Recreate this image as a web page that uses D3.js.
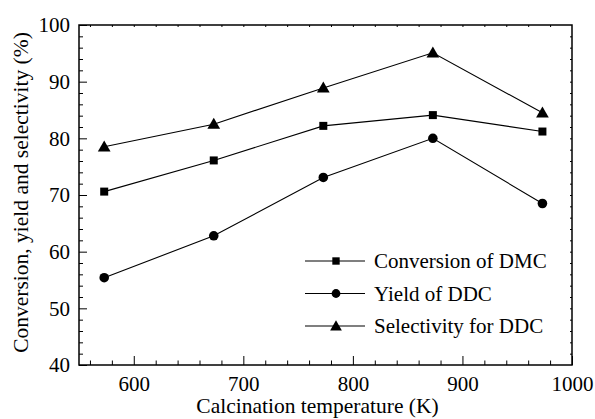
<!DOCTYPE html>
<html><head><meta charset="utf-8">
<script src="https://cdn.jsdelivr.net/npm/d3@7"></script>
<style>body{margin:0;background:#fff}svg{display:block}</style>
</head><body>
<script>
const temps = [573, 673, 773, 873, 973];
const conversion = [70.6, 76.1, 82.2, 84.1, 81.2];
const yieldDDC = [55.4, 62.8, 73.1, 80.0, 68.5];
const selectivity = [78.5, 82.5, 88.9, 95.1, 84.5];
const seriesNames = ["Conversion of DMC", "Yield of DDC", "Selectivity for DDC"];
const xTicks = [600, 700, 800, 900, 1000];
const yTicks = [40, 50, 60, 70, 80, 90, 100];

const FONT = '"Liberation Serif", "Times New Roman", serif';
const W = 595, H = 419;
const m = {l: 79, r: 23, t: 25, b: 54};
const svg = d3.select("body").append("svg").attr("width", W).attr("height", H);
const x = d3.scaleLinear().domain([550, 1000]).range([m.l, W - m.r]);
const y = d3.scaleLinear().domain([40, 100]).range([H - m.b, m.t]);

const g = svg.append("g");
const xMinor = d3.range(560, 1000, 20).filter(v => v % 100 !== 0);
const yMinor = d3.range(42, 100, 2).filter(v => v % 10 !== 0);

g.append("g").attr("transform", `translate(0,${H - m.b})`)
  .call(d3.axisBottom(x).tickValues(xTicks).tickFormat(d3.format("d")).tickSizeInner(-9).tickSizeOuter(0).tickPadding(11));
g.append("g").attr("transform", `translate(0,${H - m.b})`)
  .call(d3.axisBottom(x).tickValues(xMinor).tickSizeInner(-4.5).tickSizeOuter(0).tickFormat(""));
g.append("g").attr("transform", `translate(${m.l},0)`)
  .call(d3.axisLeft(y).tickValues(yTicks).tickFormat(d3.format("d")).tickSizeInner(-8).tickSizeOuter(0).tickPadding(9));
g.append("g").attr("transform", `translate(${m.l},0)`)
  .call(d3.axisLeft(y).tickValues(yMinor).tickSizeInner(-4).tickSizeOuter(0).tickFormat(""));
g.append("g").attr("transform", `translate(0,${m.t})`)
  .call(d3.axisTop(x).tickValues(d3.range(560, 1000, 20)).tickSizeInner(-2).tickSizeOuter(0).tickFormat(""));
g.append("g").attr("transform", `translate(${W - m.r},0)`)
  .call(d3.axisRight(y).tickValues(d3.range(42, 100, 2)).tickSizeInner(-2).tickSizeOuter(0).tickFormat(""));

g.selectAll(".domain").remove();
g.selectAll("line").attr("stroke", "#000").attr("stroke-width", 1);
g.selectAll("text").style("font-size", "21px").style("font-family", FONT).attr("fill", "#000");
svg.append("rect").attr("x", m.l).attr("y", m.t).attr("width", W - m.r - m.l).attr("height", H - m.b - m.t)
  .attr("fill", "none").attr("stroke", "#000").attr("stroke-width", 1.5);

const data = [conversion, yieldDDC, selectivity];
const symbols = [d3.symbolSquare, d3.symbolCircle, d3.symbolTriangle];
const sizes = [64, 72, 70];
const line = d3.line().x((d, i) => x(temps[i])).y(d => y(d));
data.forEach((vals, k) => {
  svg.append("path").datum(vals).attr("d", line).attr("fill", "none").attr("stroke", "#000").attr("stroke-width", 1.1);
  svg.selectAll(null).data(vals).enter().append("path")
    .attr("d", d3.symbol().type(symbols[k]).size(sizes[k]))
    .attr("transform", (d, i) => `translate(${x(temps[i])},${y(d) + (k === 2 ? 1 : 0)})`)
    .attr("fill", "#000");
});

const lg = svg.append("g");
seriesNames.forEach((name, k) => {
  const ly = 261 + k * 32.5;
  lg.append("line").attr("x1", 305).attr("x2", 365).attr("y1", ly).attr("y2", ly).attr("stroke", "#000").attr("stroke-width", 1.1);
  lg.append("path").attr("d", d3.symbol().type(symbols[k]).size(sizes[k] * 0.85))
    .attr("transform", `translate(336,${ly + (k === 2 ? 1 : 0)})`).attr("fill", "#000");
  lg.append("text").attr("x", 374).attr("y", ly + 7).style("font-size", "21px").style("font-family", FONT).text(name);
});

svg.append("text").attr("x", 317.5).attr("y", 413).attr("text-anchor", "middle")
  .style("font-size", "21.5px").style("font-family", FONT).text("Calcination temperature (K)");
svg.append("text").attr("transform", `translate(28,192.5) rotate(-90)`).attr("text-anchor", "middle")
  .style("font-size", "21.5px").style("font-family", FONT).text("Conversion, yield and selectivity (%)");
</script>
</body></html>
